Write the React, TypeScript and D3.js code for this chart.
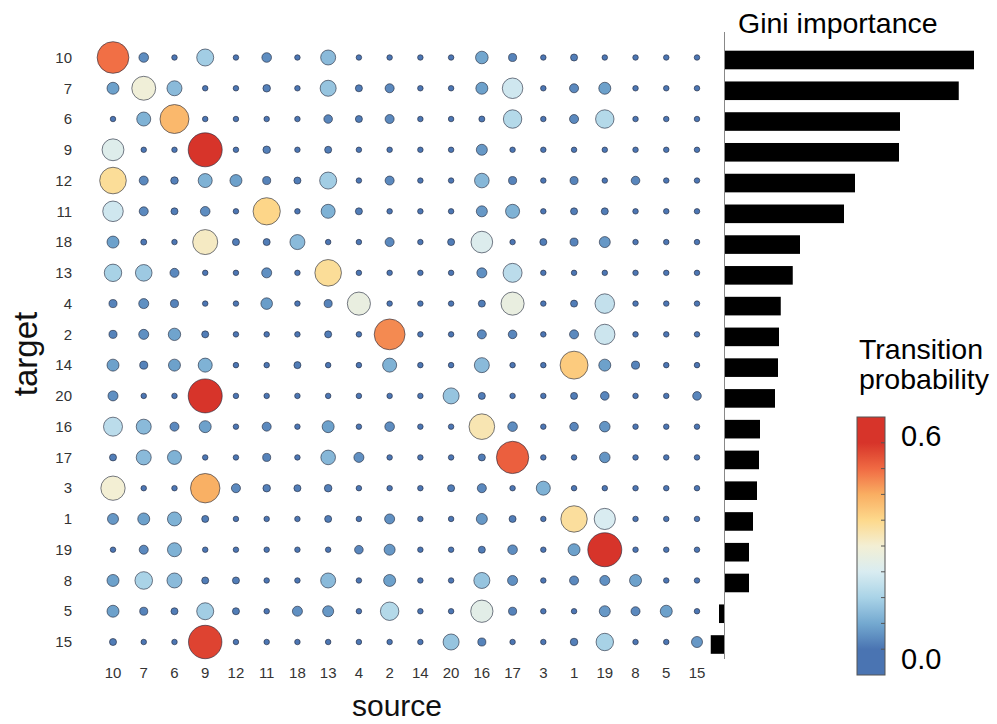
import React from "react";
import * as d3 from "d3";

// node order used for both axes (rows = target, columns = source)
const targets = ["10", "7", "6", "9", "12", "11", "18", "13", "4", "2", "14", "20", "16", "17", "3", "1", "19", "8", "5", "15"];
const sources = ["10", "7", "6", "9", "12", "11", "18", "13", "4", "2", "14", "20", "16", "17", "3", "1", "19", "8", "5", "15"];

// transition probability, one row per target, columns in `sources` order
const probs: number[][] = [
  [0.52, 0.036, 0.003, 0.14, 0.003, 0.036, 0.003, 0.106, 0.003, 0.003, 0.003, 0.003, 0.071, 0.021, 0.003, 0.013, 0.003, 0.003, 0.003, 0.003],
  [0.063, 0.29, 0.106, 0.003, 0.003, 0.017, 0.003, 0.123, 0.013, 0.03, 0.003, 0.003, 0.063, 0.21, 0.003, 0.03, 0.063, 0.003, 0.003, 0.003],
  [0.003, 0.091, 0.433, 0.003, 0.003, 0.003, 0.003, 0.026, 0.013, 0.03, 0.003, 0.003, 0.006, 0.167, 0.003, 0.03, 0.167, 0.003, 0.003, 0.003],
  [0.24, 0.003, 0.003, 0.6, 0.003, 0.017, 0.003, 0.013, 0.003, 0.003, 0.003, 0.003, 0.051, 0.003, 0.003, 0.003, 0.003, 0.003, 0.003, 0.003],
  [0.362, 0.03, 0.017, 0.091, 0.063, 0.021, 0.013, 0.14, 0.003, 0.03, 0.003, 0.003, 0.1, 0.021, 0.003, 0.021, 0.003, 0.026, 0.003, 0.003],
  [0.21, 0.03, 0.013, 0.036, 0.003, 0.38, 0.003, 0.091, 0.013, 0.003, 0.003, 0.003, 0.051, 0.091, 0.003, 0.013, 0.013, 0.003, 0.003, 0.003],
  [0.063, 0.006, 0.003, 0.318, 0.013, 0.013, 0.106, 0.003, 0.003, 0.03, 0.003, 0.013, 0.235, 0.003, 0.013, 0.021, 0.051, 0.003, 0.003, 0.003],
  [0.148, 0.133, 0.03, 0.003, 0.003, 0.04, 0.003, 0.362, 0.003, 0.003, 0.003, 0.003, 0.04, 0.178, 0.003, 0.003, 0.003, 0.003, 0.003, 0.003],
  [0.021, 0.04, 0.021, 0.003, 0.003, 0.058, 0.003, 0.021, 0.27, 0.003, 0.003, 0.003, 0.013, 0.27, 0.003, 0.013, 0.19, 0.003, 0.003, 0.003],
  [0.021, 0.04, 0.068, 0.013, 0.003, 0.003, 0.003, 0.013, 0.003, 0.49, 0.003, 0.003, 0.03, 0.026, 0.003, 0.03, 0.205, 0.003, 0.003, 0.003],
  [0.063, 0.021, 0.063, 0.091, 0.003, 0.003, 0.013, 0.003, 0.003, 0.091, 0.003, 0.003, 0.106, 0.003, 0.003, 0.4, 0.063, 0.021, 0.003, 0.003],
  [0.04, 0.003, 0.003, 0.6, 0.003, 0.003, 0.003, 0.003, 0.003, 0.003, 0.003, 0.123, 0.013, 0.003, 0.003, 0.013, 0.026, 0.003, 0.003, 0.026],
  [0.178, 0.106, 0.03, 0.063, 0.003, 0.03, 0.003, 0.063, 0.003, 0.036, 0.003, 0.003, 0.335, 0.036, 0.003, 0.026, 0.046, 0.003, 0.003, 0.003],
  [0.013, 0.106, 0.091, 0.003, 0.003, 0.021, 0.003, 0.1, 0.04, 0.003, 0.003, 0.003, 0.013, 0.54, 0.003, 0.003, 0.046, 0.003, 0.003, 0.003],
  [0.3, 0.003, 0.003, 0.446, 0.03, 0.017, 0.013, 0.017, 0.003, 0.003, 0.003, 0.013, 0.03, 0.003, 0.091, 0.003, 0.003, 0.003, 0.003, 0.003],
  [0.051, 0.063, 0.091, 0.013, 0.003, 0.003, 0.003, 0.013, 0.003, 0.04, 0.003, 0.003, 0.051, 0.013, 0.003, 0.357, 0.225, 0.003, 0.003, 0.003],
  [0.003, 0.03, 0.091, 0.003, 0.003, 0.003, 0.003, 0.003, 0.026, 0.051, 0.003, 0.003, 0.013, 0.036, 0.003, 0.063, 0.6, 0.003, 0.003, 0.003],
  [0.063, 0.151, 0.106, 0.013, 0.013, 0.003, 0.003, 0.106, 0.003, 0.063, 0.003, 0.003, 0.123, 0.04, 0.003, 0.03, 0.04, 0.063, 0.003, 0.003],
  [0.063, 0.021, 0.013, 0.14, 0.013, 0.003, 0.04, 0.051, 0.003, 0.167, 0.003, 0.003, 0.25, 0.021, 0.003, 0.003, 0.051, 0.03, 0.063, 0.003],
  [0.013, 0.003, 0.003, 0.579, 0.003, 0.003, 0.003, 0.003, 0.003, 0.003, 0.003, 0.123, 0.021, 0.003, 0.003, 0.017, 0.148, 0.003, 0.003, 0.051],
];

// gini importance per target (same order as targets)
const gini = [0.0998, 0.0937, 0.0702, 0.0698, 0.0522, 0.0478, 0.0302, 0.0273, 0.0225, 0.0218,
  0.0214, 0.0202, 0.0142, 0.0138, 0.013, 0.0114, 0.0098, 0.0098, -0.0022, -0.0055];

const cbLabels = [0.6, 0.0];

// RdYlBu-like ramp, low -> high, slightly muted in the middle as in the figure
const ramp = ["#4a74b2", "#74a9d0", "#a9d3e7", "#d9ecf1", "#f3efd4", "#fdd98c", "#f9ae62", "#f06a43", "#d7342a"];

const FONT = "'Liberation Sans', Arial, Helvetica, sans-serif";

export default function App() {
  const W = 997, H = 724;

  const x = d3.scalePoint<string>().domain(sources).range([113, 697]);
  const y = d3.scalePoint<string>().domain(targets).range([57.5, 642]);
  const yBar = d3.scalePoint<string>().domain(targets).range([60, 644.5]);
  const xGini = d3.scaleLinear().domain([0, 0.1]).range([724.5, 974.5]);

  // area grows linearly with probability, with a minimum dot size
  const area = d3.scaleLinear().domain([0, 0.6]).range([2.5 * 2.5, 17 * 17]);
  const radius = (v: number) => Math.sqrt(area(v));

  const color = d3.scaleLinear<string>()
    .domain(ramp.map((_, i) => (i * 0.6) / (ramp.length - 1)))
    .range(ramp)
    .clamp(true);

  // colour bar
  const cbX = 857, cbW = 28;
  const cbY = d3.scaleLinear().domain([-0.075, 0.675]).range([675, 417]);
  const cbTicks = d3.range(0, 0.6 + 1e-9, 0.075);
  const gradStops = d3.range(0, 1.0001, 0.05).map(t => ({
    off: t, c: color(-0.075 + t * 0.75),
  }));

  const cells: { t: string; s: string; v: number }[] = [];
  targets.forEach((t, i) => sources.forEach((s, j) => cells.push({ t, s, v: probs[i][j] })));
  // draw small first so large circles sit on top
  cells.sort((a, b) => a.v - b.v);

  return (
    <svg width={W} height={H} style={{ position: "absolute", left: 0, top: 0, background: "#fff" }} fontFamily={FONT}>
      <defs>
        <linearGradient id="cbGrad" x1="0" y1="1" x2="0" y2="0">
          {gradStops.map((d, i) => <stop key={i} offset={d.off} stopColor={d.c} />)}
        </linearGradient>
      </defs>

      {/* dot matrix */}
      {cells.map((d, i) => (
        <circle key={i} cx={x(d.s)} cy={y(d.t)} r={radius(d.v)} fill={color(d.v)}
          stroke="#1e2438" strokeOpacity={0.6} strokeWidth={1} />
      ))}

      {/* row labels */}
      {targets.map(t => (
        <text key={"r" + t} x={72} y={y(t)} dy="0.35em" textAnchor="end" fontSize={15} fill="#333">{t}</text>
      ))}
      {/* column labels */}
      {sources.map(s => (
        <text key={"c" + s} x={x(s)} y={678} textAnchor="middle" fontSize={15} fill="#333">{s}</text>
      ))}

      <text transform="translate(37,354) rotate(-90)" textAnchor="middle" fontSize={33} fill="#111">target</text>
      <text x={397} y={716} textAnchor="middle" fontSize={30} fill="#111">source</text>

      {/* gini importance bars */}
      <text x={738} y={33} fontSize={28.5} fill="#000">Gini importance</text>
      {targets.map((t, i) => {
        const x0 = xGini(Math.min(0, gini[i]));
        const x1 = xGini(Math.max(0, gini[i]));
        return <rect key={"g" + t} x={x0} y={yBar(t)! - 9.3} width={x1 - x0} height={18.6} fill="#000" />;
      })}
      <line x1={xGini(0)} x2={xGini(0)} y1={32} y2={659} stroke="#888" strokeWidth={1} />

      {/* colour legend */}
      <text x={859} y={359} fontSize={28.5} fill="#000">Transition</text>
      <text x={859} y={389} fontSize={28.5} fill="#000">probability</text>
      <rect x={cbX} y={cbY(0.675)} width={cbW} height={cbY(-0.075) - cbY(0.675)}
        fill="url(#cbGrad)" stroke="#555" strokeWidth={1} />
      {cbTicks.map(v => (
        <line key={"t" + v} x1={cbX + cbW - 4} x2={cbX + cbW} y1={cbY(v)} y2={cbY(v)} stroke="#555" strokeWidth={1} />
      ))}
      {cbLabels.map(v => (
        <text key={"l" + v} x={901} y={cbY(v) + (v > 0 ? -7 : 9)} dy="0.36em" fontSize={29} fill="#000">{v.toFixed(1)}</text>
      ))}
    </svg>
  );
}
